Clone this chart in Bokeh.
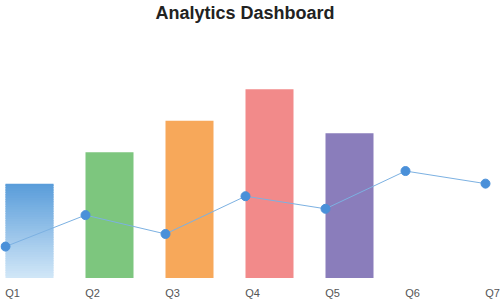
from bokeh.plotting import figure
from bokeh.models import Range1d, FixedTicker, CustomJSTickFormatter, ColumnDataSource
from bokeh.embed import file_html
from bokeh.resources import INLINE

# ---- data ----
quarters = ["Q1", "Q2", "Q3", "Q4", "Q5", "Q6", "Q7"]
bar_quarters = ["Q1", "Q2", "Q3", "Q4", "Q5"]
bar_values = [30, 40, 50, 60, 46]
line_values = [10, 20, 14, 26, 22, 34, 30]

# ---- styles ----
bar_colors = ["#7fb3e3", "#7dc67e", "#f7a85a", "#f28a8a", "#8a7dbb"]
grad_top = (90, 157, 218)
grad_bottom = (208, 230, 247)
line_color = "#7cb1e2"
point_color = "#4a90d9"
BAR_W = 0.6

p = figure(width=500, height=301, output_backend="svg", toolbar_location=None,
           x_range=Range1d(-0.0625, 6.1875), y_range=Range1d(-1.1, 81.2),
           min_border_left=0, min_border_right=0, min_border_top=0, min_border_bottom=19,
           background_fill_color="white", border_fill_color="white")
p.title.text = "Analytics Dashboard"
p.title.align = "left"
p.title.offset = 155
p.title.text_font = "Liberation Sans"
p.title.text_font_style = "bold"
p.title.text_font_size = "18px"
p.title.text_color = "#222222"
p.title.standoff = 0
p.outline_line_color = None
p.grid.visible = False
p.yaxis.visible = False

xs = list(range(len(quarters)))
bx = xs[:len(bar_quarters)]

# Q1 bar with vertical gradient (overlapping strips), other bars solid
n = 40
g_bottom, g_top, g_col, g_x = [], [], [], []
v0 = bar_values[0]
for k in range(n):
    t = k / (n - 1)
    c = tuple(int(round(grad_bottom[j] + (grad_top[j] - grad_bottom[j]) * t)) for j in range(3))
    g_bottom.append(v0 * k / n)
    g_top.append(min(v0, v0 * (k + 1.6) / n))
    g_col.append("#%02x%02x%02x" % c)
    g_x.append(bx[0] + BAR_W / 2)
p.vbar(x=g_x, width=BAR_W, bottom=g_bottom, top=g_top, fill_color=g_col, line_color=None)

src = ColumnDataSource(dict(x=[i + BAR_W / 2 for i in bx[1:]], top=bar_values[1:], color=bar_colors[1:]))
p.vbar(x="x", width=BAR_W, bottom=0, top="top", fill_color="color", line_color=None, source=src)

p.line(xs, line_values, line_color=line_color, line_width=1)
p.scatter(xs, line_values, size=9, fill_color=point_color, line_color=point_color)

ax = p.xaxis[0]
ax.ticker = FixedTicker(ticks=[i + 0.0875 for i in xs])
ax.formatter = CustomJSTickFormatter(args=dict(labels=quarters), code="return labels[Math.floor(tick)];")
ax.axis_line_color = None
ax.major_tick_line_color = None
ax.minor_tick_line_color = None
ax.major_tick_out = 0
ax.major_label_standoff = 5
ax.major_label_text_font = "Liberation Sans"
ax.major_label_text_font_size = "11px"
ax.major_label_text_color = "#555555"

open("out.html", "w").write(file_html(p, INLINE))
